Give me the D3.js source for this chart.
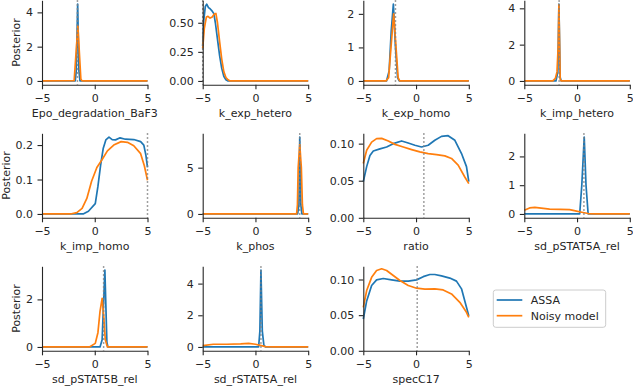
<!DOCTYPE html>
<html><head><meta charset="utf-8">
<script src="https://cdn.jsdelivr.net/npm/d3@7"></script>
<style>body{margin:0;background:#fff;} svg{display:block;font-family:"DejaVu Sans",sans-serif;}</style>
</head><body><svg id="c" width="633" height="386"></svg>
<script>
const parameters = ["Epo_degradation_BaF3","k_exp_hetero","k_exp_homo","k_imp_hetero","k_imp_homo","k_phos","ratio","sd_pSTAT5A_rel","sd_pSTAT5B_rel","sd_rSTAT5A_rel","specC17"];
const trueValues = [-1.64, -5, -1.95, -1.7, 5, 4.2, 0.74, 0.65, 0.84, 0.52, 0.11];
const xTickValues = [-5, 0, 5];
const xTickLabels = ["−5", "0", "5"];
const yTickValues = [[0,2,4],[0,0.25,0.5],[0,1,2],[0,2,4],[0,0.1,0.2],[0,5],[0,0.05,0.1],[0,1,2],[0,2],[0,2,4],[0,0.05,0.1]];
const yTickLabels = [["0","2","4"],["0.00","0.25","0.50"],["0","1","2"],["0","2","4"],["0.0","0.1","0.2"],["0","5"],["0.00","0.05","0.10"],["0","1","2"],["0","2"],["0","2","4"],["0.00","0.05","0.10"]];
const seriesNames = ["ASSA", "Noisy model"];
const seriesColors = ["#1f77b4", "#ff7f0e"];

const assaCurves = [
  [[-5,0],[-1.85,0],[-1.75,0.6],[-1.62,4.48],[-1.5,0.6],[-1.4,0],[5,0]],
  [[-5,0.30],[-4.9,0.52],[-4.75,0.64],[-4.62,0.66],[-4.45,0.63],[-4.3,0.62],[-4.1,0.6],[-3.95,0.58],[-3.8,0.5],[-3.6,0.36],[-3.4,0.22],[-3.2,0.11],[-3.0,0.04],[-2.8,0.01],[-2.6,0],[5,0]],
  [[-5,0],[-2.8,0],[-2.55,0.3],[-2.35,1.5],[-2.15,2.29],[-1.95,1.0],[-1.75,0.1],[-1.6,0],[5,0]],
  [[-5,0],[-2.0,0],[-1.82,0.5],[-1.72,4.23],[-1.6,0.2],[-1.5,0],[5,0]],
  [[-5,0],[-1.1,0],[-0.6,0.008],[0.05,0.03],[0.3,0.08],[0.55,0.14],[0.8,0.19],[1.05,0.215],[1.35,0.223],[1.65,0.216],[1.97,0.215],[2.4,0.221],[2.9,0.217],[3.7,0.216],[4.35,0.21],[4.65,0.2],[4.85,0.17],[5,0.135]],
  [[-5,0],[4.0,0],[4.12,1],[4.2,8.3],[4.3,1],[4.4,0],[5,0]],
  [[-5,0.0487],[-4.68,0.069],[-4.37,0.084],[-4.05,0.09],[-3.42,0.093],[-2.79,0.0955],[-2.16,0.1],[-1.37,0.1036],[-0.74,0.1009],[-0.11,0.0978],[0.52,0.0955],[1.15,0.0978],[1.78,0.1045],[2.41,0.1098],[3.04,0.1107],[3.68,0.1045],[4.31,0.0866],[4.78,0.069],[5,0.0487]],
  [[-5,0],[0.25,0],[0.45,1],[0.68,2.67],[0.85,1],[1.05,0],[5,0]],
  [[-5,0],[0.5,0],[0.7,0.3],[0.96,3.23],[1.15,0.2],[1.25,0],[5,0]],
  [[-5,0],[0.3,0],[0.42,1],[0.52,4.85],[0.65,1],[0.8,0.1],[0.95,0],[5,0]],
  [[-5,0.0446],[-4.68,0.07],[-4.21,0.0915],[-3.74,0.0995],[-3.11,0.1014],[-2.32,0.0995],[-1.53,0.0977],[-0.74,0.0977],[0.05,0.0995],[0.68,0.104],[1.31,0.107],[1.78,0.107],[2.41,0.105],[3.2,0.102],[3.83,0.0977],[4.31,0.0869],[4.78,0.061],[5,0.049]]
];
const noisyCurves = [
  [[-5,0],[-1.95,0.02],[-1.6,3.2],[-1.32,0.12],[-1.22,0.02],[-1.05,0],[5,0]],
  [[-5,0.28],[-4.85,0.45],[-4.65,0.55],[-4.5,0.555],[-4.3,0.54],[-4.1,0.55],[-3.9,0.575],[-3.75,0.58],[-3.6,0.5],[-3.4,0.34],[-3.2,0.19],[-3.0,0.08],[-2.8,0.03],[-2.6,0.01],[-2.4,0],[5,0]],
  [[-5,0],[-2.85,0],[-2.6,0.1],[-2.4,0.9],[-2.12,2.0],[-1.9,1.0],[-1.7,0.1],[-1.55,0],[5,0]],
  [[-5,0],[-2.3,0],[-2.05,0.15],[-1.9,0.5],[-1.78,2.0],[-1.72,4.2],[-1.6,0.1],[-1.5,0],[5,0]],
  [[-5,0],[-2.3,0],[-1.7,0.004],[-1.2,0.016],[-0.75,0.045],[-0.3,0.095],[0.2,0.135],[0.7,0.158],[1.2,0.183],[1.8,0.2],[2.5,0.21],[3.1,0.208],[3.7,0.198],[4.35,0.175],[4.7,0.14],[5,0.098]],
  [[-5,0],[3.9,0],[3.98,1],[4.05,5],[4.2,7.5],[4.35,5],[4.45,1],[4.55,0],[5,0]],
  [[-5,0.0732],[-4.68,0.091],[-4.21,0.102],[-3.74,0.1067],[-3.26,0.1071],[-2.63,0.1036],[-2.0,0.099],[-1.21,0.0955],[-0.42,0.092],[0.36,0.0888],[1.15,0.0866],[1.94,0.0853],[2.73,0.0835],[3.36,0.08],[3.99,0.071],[4.62,0.055],[5,0.046]],
  [[-5,0.13],[-4.5,0.21],[-4,0.23],[-3.4,0.2],[-2.6,0.165],[-1.6,0.16],[-0.7,0.15],[-0.05,0.1],[0.45,0.06],[1.05,0.015],[1.8,0.003],[5,0]],
  [[-5,0],[-0.5,0],[0.05,0.15],[0.3,0.6],[0.5,1.5],[0.7,2.04],[0.85,1.3],[1.0,0.3],[1.2,0],[5,0]],
  [[-5,0.08],[-4,0.17],[-2.7,0.17],[-1.4,0.19],[-0.65,0.23],[0,0.17],[0.45,0.1],[0.95,0.02],[1.7,0],[5,0]],
  [[-5,0.061],[-4.68,0.0845],[-4.21,0.103],[-3.74,0.1127],[-3.26,0.115],[-2.79,0.1127],[-2.16,0.1056],[-1.53,0.0986],[-0.74,0.0915],[0.05,0.0878],[0.84,0.0864],[1.78,0.0869],[2.57,0.0854],[3.36,0.0798],[4.15,0.068],[4.78,0.054],[5,0.047]]
];

const svg = d3.select("#c");
svg.append("rect").attr("width",633).attr("height",386).attr("fill","#fff");
const colLeft = [42, 202.7, 363.3, 524.3], W = 105.5;
const rowTop = [0.3, 133.3, 266.3], H = 84.5;
const ink = "#262626", fs = 11;

parameters.forEach((name, i) => {
  const r = Math.floor(i / 4), c = i % 4;
  const g = svg.append("g").attr("transform", `translate(${colLeft[c]},${rowTop[r]})`);
  const x = d3.scaleLinear().domain([-5, 5]).range([0, W]);
  const vals = assaCurves[i].concat(noisyCurves[i]).map(d => d[1]);
  const lo = d3.min(vals), hi = d3.max(vals), span = hi - lo;
  const y = d3.scaleLinear().domain([Math.min(lo - 0.05 * span, 0), hi + 0.05 * span]).range([H, 0]);
  const line = d3.line().x(d => x(d[0])).y(d => y(d[1]));

  [assaCurves[i], noisyCurves[i]].forEach((pts, k) => {
    g.append("path").datum(pts).attr("d", line).attr("fill", "none")
      .attr("stroke", seriesColors[k]).attr("stroke-width", 1.7).attr("stroke-linejoin", "round");
  });
  g.append("line").attr("x1", x(trueValues[i])).attr("x2", x(trueValues[i]))
    .attr("y1", 0).attr("y2", H).attr("stroke", "#808080").attr("stroke-width", 1.5)
    .attr("stroke-dasharray", "1.5,2.5");

  const xa = g.append("g").attr("transform", `translate(0,${H})`)
    .call(d3.axisBottom(x).tickValues(xTickValues).tickFormat((d, k) => xTickLabels[k]).tickSize(4.5).tickSizeOuter(0).tickPadding(4.5));
  const ya = g.append("g")
    .call(d3.axisLeft(y).tickValues(yTickValues[i]).tickFormat((d, k) => yTickLabels[i][k]).tickSize(4.5).tickSizeOuter(0).tickPadding(4.5));
  [xa, ya].forEach(a => {
    a.attr("font-family", null).attr("font-size", null);
    a.selectAll("path.domain").attr("stroke", ink).attr("stroke-width", 1.1);
    a.selectAll(".tick line").attr("stroke", ink).attr("stroke-width", 1.1);
    a.selectAll(".tick text").attr("fill", ink).style("font-size", fs + "px").style("font-family", "DejaVu Sans");
  });
  g.append("text").attr("x", W / 2).attr("y", H + 32.5).attr("text-anchor", "middle")
    .attr("fill", ink).style("font-size", fs + "px").text(name);
  if (c === 0) {
    let minX = Infinity;
    ya.selectAll(".tick text").each(function () { minX = Math.min(minX, this.getBBox().x); });
    g.append("text").attr("transform", `translate(${minX - 6},${H / 2}) rotate(-90)`)
      .attr("text-anchor", "middle").attr("fill", ink).style("font-size", fs + "px").text("Posterior");
  }
});

const lg = svg.append("g").attr("transform", "translate(493.3,290)");
lg.append("rect").attr("width", 112.4).attr("height", 37.3).attr("rx", 2.5)
  .attr("fill", "#fff").attr("fill-opacity", 0.8).attr("stroke", "#cccccc").attr("stroke-width", 1);
seriesNames.forEach((s, k) => {
  const yy = 10 + k * 15.7;
  lg.append("line").attr("x1", 3.4).attr("x2", 29).attr("y1", yy).attr("y2", yy)
    .attr("stroke", seriesColors[k]).attr("stroke-width", 1.7);
  lg.append("text").attr("x", 37.4).attr("y", yy + 4).attr("fill", ink).style("font-size", fs + "px").text(s);
});
</script></body></html>
